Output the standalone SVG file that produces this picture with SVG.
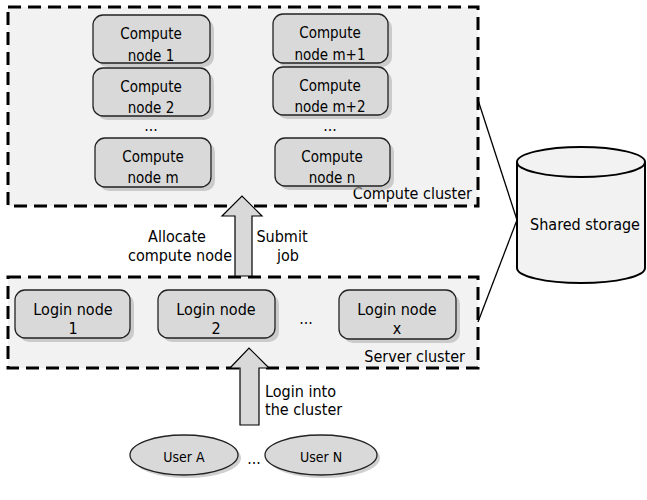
<svg xmlns="http://www.w3.org/2000/svg" width="647" height="500" viewBox="0 0 647 500">
<style>
text{font-family:"DejaVu Sans Condensed","DejaVu Sans","Liberation Sans",sans-serif;font-size:15px;fill:#000}
.c{text-anchor:middle}
.cluster{fill:#f2f2f2;stroke:#000;stroke-width:3;stroke-dasharray:13,7}
.node{fill:#d9d9d9;stroke:#222;stroke-width:1.3}
.sh{fill:#b0b0b0;opacity:0.6}
.arrow{fill:#d9d9d9;stroke:#000;stroke-width:1.2}
.lbl{font-size:16px}
</style>
<rect width="647" height="500" fill="#fff"/>
<g id="compute-cluster">
<rect class="cluster" x="8" y="7" width="470" height="199"/>
<text class="lbl" x="472" y="199" text-anchor="end">Compute cluster</text>
</g>
<g id="server-cluster">
<rect class="cluster" x="8" y="277" width="470" height="91"/>
<text class="lbl" x="465" y="362" text-anchor="end">Server cluster</text>
</g>
<g id="connectors">
<path class="arrow" d="M235,276 L235,216 L222,216 L242,196 L262,216 L252,216 L252,276 Z"/>
<path class="arrow" d="M240,425 L240,368 L230,368 L249,348 L269,368 L259,368 L259,425 Z"/>
<line x1="478" y1="100" x2="517" y2="220" stroke="#000" stroke-width="1.3"/>
<line x1="517" y1="220" x2="478" y2="322" stroke="#000" stroke-width="1.3"/>
<text class="c lbl" x="177" y="242">Allocate</text>
<text class="c lbl" x="180" y="261">compute node</text>
<text class="c lbl" x="282" y="242">Submit</text>
<text class="c lbl" x="288" y="261">job</text>
<text class="lbl" x="265" y="397">Login into</text>
<text class="lbl" x="265" y="415">the cluster</text>
</g>
<g id="compute-node-1">
<rect class="sh" x="97" y="19" width="117" height="48" rx="10"/>
<rect class="node" x="93" y="15" width="117" height="48" rx="10"/>
<text class="c" x="151" y="39">Compute</text><text class="c" x="151" y="61">node 1</text>
</g>
<g id="compute-node-2">
<rect class="sh" x="97" y="72" width="117" height="48" rx="10"/>
<rect class="node" x="93" y="68" width="117" height="48" rx="10"/>
<text class="c" x="151" y="92">Compute</text><text class="c" x="151" y="113">node 2</text>
</g>
<text class="c" x="151" y="131">…</text>
<g id="compute-node-m">
<rect class="sh" x="99" y="142" width="116" height="49" rx="10"/>
<rect class="node" x="95" y="138" width="116" height="49" rx="10"/>
<text class="c" x="153" y="162">Compute</text><text class="c" x="153" y="183">node m</text>
</g>
<g id="compute-node-m1">
<rect class="sh" x="277" y="18" width="115" height="49" rx="10"/>
<rect class="node" x="273" y="14" width="115" height="49" rx="10"/>
<text class="c" x="330" y="38">Compute</text><text class="c" x="330" y="60">node m+1</text>
</g>
<g id="compute-node-m2">
<rect class="sh" x="277" y="71" width="115" height="48" rx="10"/>
<rect class="node" x="273" y="67" width="115" height="48" rx="10"/>
<text class="c" x="330" y="91">Compute</text><text class="c" x="330" y="112">node m+2</text>
</g>
<text class="c" x="330" y="131">…</text>
<g id="compute-node-n">
<rect class="sh" x="279" y="142" width="115" height="48" rx="10"/>
<rect class="node" x="275" y="138" width="115" height="48" rx="10"/>
<text class="c" x="332" y="162">Compute</text><text class="c" x="332" y="183">node n</text>
</g>
<g id="login-node-1">
<rect class="sh" x="19" y="294" width="115" height="48" rx="10"/>
<rect class="node" x="15" y="290" width="115" height="48" rx="10"/>
<text class="c lbl" x="73" y="315">Login node</text><text class="c lbl" x="73" y="334">1</text>
</g>
<g id="login-node-2">
<rect class="sh" x="162" y="294" width="117" height="48" rx="10"/>
<rect class="node" x="158" y="290" width="117" height="48" rx="10"/>
<text class="c lbl" x="216" y="315">Login node</text><text class="c lbl" x="216" y="334">2</text>
</g>
<text class="c" x="306" y="324">…</text>
<g id="login-node-x">
<rect class="sh" x="343" y="294" width="117" height="49" rx="10"/>
<rect class="node" x="339" y="290" width="117" height="49" rx="10"/>
<text class="c lbl" x="397" y="315">Login node</text><text class="c lbl" x="397" y="334">x</text>
</g>
<g id="shared-storage">
<path d="M517,162 L517,268 A64,15 0 0 0 645,268 L645,162 A64,15 0 0 0 517,162 Z" fill="#f2f2f2" stroke="#000" stroke-width="2"/>
<path d="M517,162 A64,15 0 0 0 645,162" fill="none" stroke="#000" stroke-width="2"/>
<text class="c lbl" x="585" y="230">Shared storage</text>
</g>
<g id="user-a">
<ellipse cx="187" cy="458" rx="54" ry="20" class="sh"/>
<ellipse cx="184" cy="455" rx="54" ry="20" class="node"/>
<text class="c" x="184" y="462" style="font-size:14px">User A</text>
</g>
<text class="c" x="254" y="464">…</text>
<g id="user-n">
<ellipse cx="324" cy="458" rx="56" ry="20" class="sh"/>
<ellipse cx="321" cy="455" rx="56" ry="20" class="node"/>
<text class="c" x="321" y="462" style="font-size:14px">User N</text>
</g>
</svg>
